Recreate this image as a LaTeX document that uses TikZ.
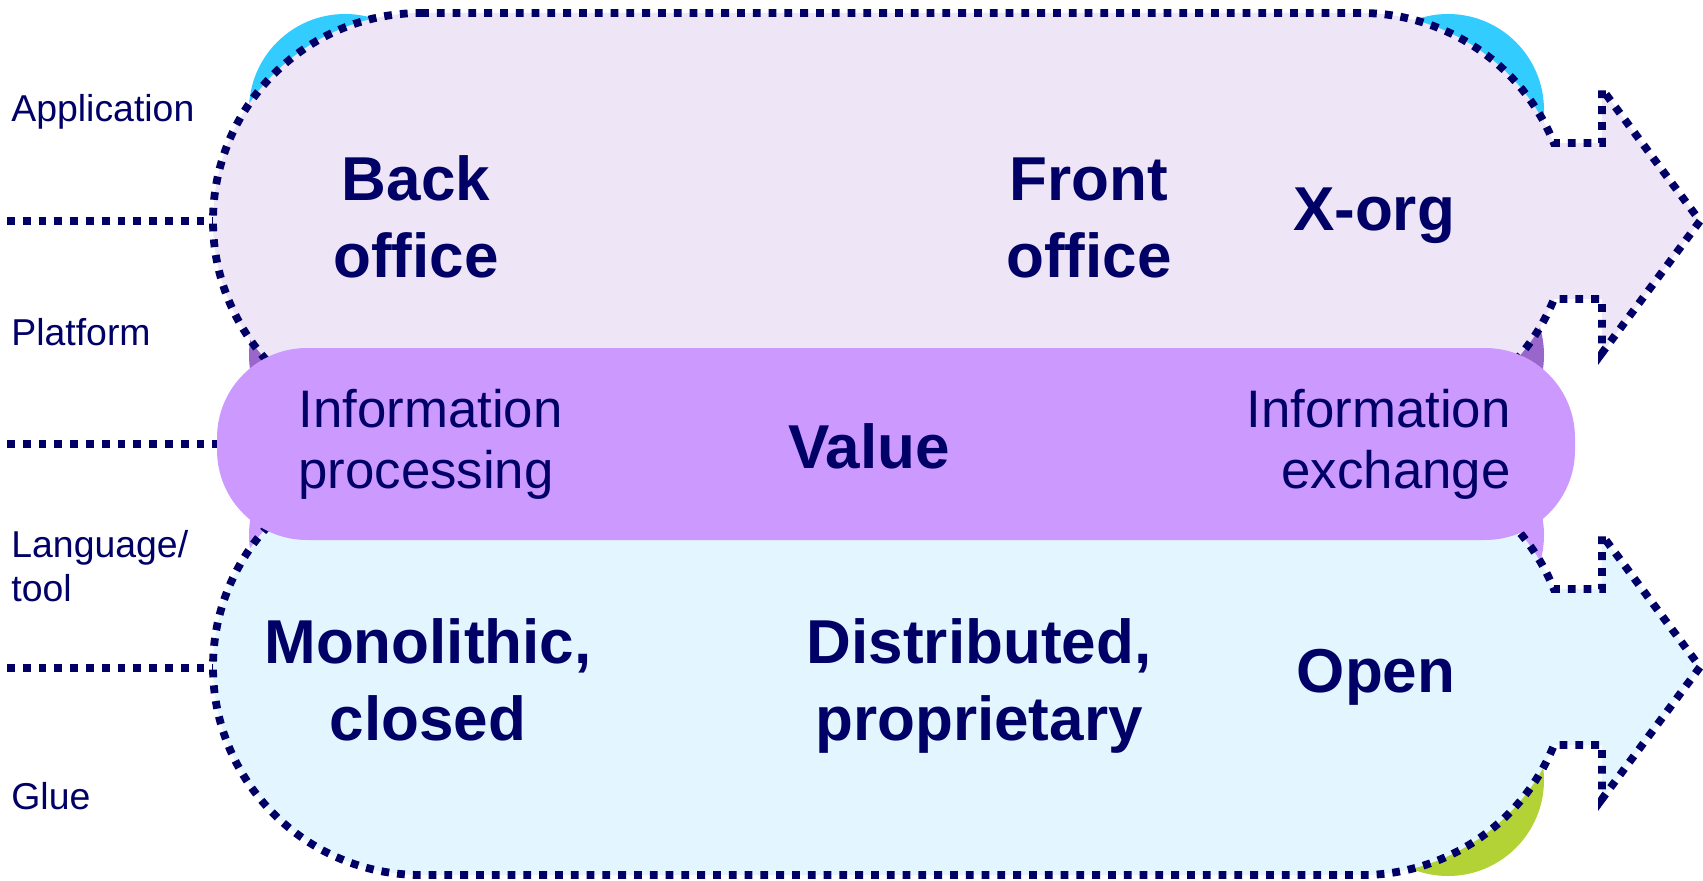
\documentclass[tikz,border=0pt]{standalone}
\usepackage{fontspec}
\setmainfont{Liberation Sans}
\definecolor{navy}{HTML}{000066}
\definecolor{toplav}{HTML}{EEE5F6}
\definecolor{botsky}{HTML}{E3F6FF}
\definecolor{bandpurple}{HTML}{CC99FF}
\definecolor{darkpurple}{HTML}{9966CC}
\definecolor{discblue}{HTML}{33CCFF}
\definecolor{discgreen}{HTML}{B2D235}
\begin{document}
\begin{tikzpicture}[x=0.5pt, y=0.5pt,
    dotline/.style={draw=navy, line width=3.9pt, dash pattern=on 3.9pt off 4pt},
    layer/.style={font=\fontsize{18.7pt}{22pt}\selectfont, text=navy, inner sep=0pt,
      anchor=base west, align=left},
    big/.style={font=\fontsize{31pt}{38.5pt}\selectfont\bfseries, text=navy, inner sep=0pt,
      anchor=base, align=center},
    mid/.style={font=\fontsize{26.4pt}{30.5pt}\selectfont, text=navy, inner sep=0pt}]
  \useasboundingbox (0,0) rectangle (1703,880);
  % discs peeping out behind the layers
  \fill[discblue] (345,770) circle (96);
  \fill[discblue] (1448,770) circle (96);
  \fill[discgreen] (1448,100) circle (96);
  \fill[darkpurple] (345,525) circle (96);
  \fill[darkpurple] (1448,525) circle (96);
  \fill[bandpurple] (345,345) circle (96);
  \fill[bandpurple] (1448,345) circle (96);
  % the two arrows
  \foreach \cy/\col in {659/toplav, 213/botsky} {
    \begin{scope}[shift={(0,\cy)}]
      \filldraw[fill=\col, dotline] (421,208) -- (1361,208)
        arc[start angle=90, end angle=22, radius=208] -- (1602,78) -- (1602,132)
        -- (1700,0) -- (1602,-132) -- (1602,-78) -- (1554,-78)
        arc[start angle=-22, end angle=-90, radius=208] -- (421,-208)
        arc[start angle=270, end angle=90, radius=208] -- cycle;
    \end{scope}
  }
  % middle band
  \fill[bandpurple, rounded corners=45pt] (217,340) rectangle (1575,532);
  % layer separators
  \foreach \sy/\ex in {659/213, 436/217, 212/213}
    \draw[dotline] (7,\sy) -- (\ex,\sy);
  % layer names
  \node[layer] (app) at (11,758) {Application};
  \node[layer] (plat) at (11,535) {Platform};
  \node[layer] (lang) at (11,279) {Language/\\tool};
  \node[layer] (glue) at (11,71) {Glue};
  % top arrow
  \node[big] (back) at (416,603) {Back\\office};
  \node[big] (front) at (1089,603) {Front\\office};
  \node[big] (xorg) at (1374,649) {X-org};
  % band
  \node[mid, anchor=base west, align=left] (proc) at (298,392) {Information\\processing};
  \node[big] (value) at (869,412) {Value};
  \node[mid, anchor=base east, align=right] (exch) at (1511,392) {Information\\exchange};
  % bottom arrow
  \node[big] (mono) at (428,140) {Monolithic,\\closed};
  \node[big] (dist) at (979,140) {Distributed,\\proprietary};
  \node[big] (open) at (1376,188) {Open};
\end{tikzpicture}
\end{document}
